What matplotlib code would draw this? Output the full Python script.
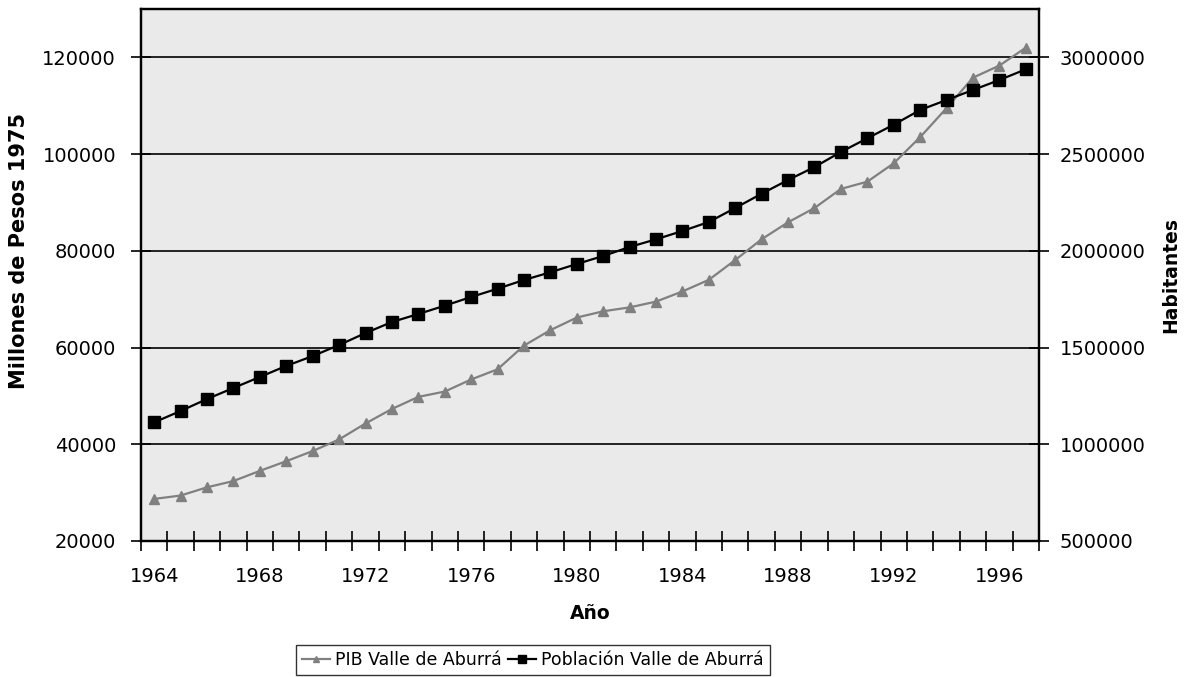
import numpy as np
import matplotlib
matplotlib.use("Agg")
from matplotlib import pyplot as plt
from matplotlib.ticker import FormatStrFormatter

plt.rcParams["font.family"] = ["DejaVu Sans"]

# data
years = list(range(1964, 1998))
pib = [28700, 29400, 31100, 32400, 34500, 36500, 38600, 41000, 44300, 47300,
       49800, 50900, 53400, 55500, 60400, 63600, 66200, 67500, 68300, 69500,
       71600, 74000, 78100, 82400, 85900, 88850, 92800, 94300, 98100, 103500,
       109500, 115800, 118300, 122000]
poblacion = [1113600, 1172000, 1234000, 1291000, 1348000, 1405000, 1456000,
             1513000, 1575000, 1632000, 1673400, 1716300, 1761300, 1804200,
             1849200, 1889000, 1931900, 1973200, 2019800, 2059500, 2102500,
             2149000, 2221400, 2295300, 2366100, 2433000, 2511000, 2581600,
             2652000, 2728000, 2779600, 2831300, 2883000, 2938300]

fig = plt.figure(figsize=(11.87, 6.77), dpi=100)
ax = fig.add_axes([0.1188, 0.2009, 0.7565, 0.7858])
ax.set_facecolor("#eaeaea")
ax2 = ax.twinx()

x = np.arange(len(years))
l1, = ax.plot(x, pib, color="#808080", lw=1.6, marker="^", ms=7,
              label="PIB Valle de Aburrá")
l2, = ax2.plot(x, poblacion, color="black", lw=1.6, marker="s", ms=8,
               label="Población Valle de Aburrá")

ax.set_xlim(-0.5, len(years) - 0.5)
ax.set_ylim(20000, 130000)
ax.set_yticks(np.arange(20000, 130000, 20000))
ax2.set_ylim(500000, 3250000)
ax2.set_yticks(np.arange(500000, 3250000, 500000))
ax2.yaxis.set_major_formatter(FormatStrFormatter("%d"))
ax.yaxis.grid(True, color="black", lw=1.2)
ax.set_axisbelow(True)

# category boundaries as ticks, year labels at centres
ax.set_xticks(np.arange(-0.5, len(years), 1))
ax.set_xticklabels([])
ax.set_xticks(x[::4], minor=True)
ax.set_xticklabels([str(y) for y in years[::4]], minor=True)
ax.tick_params(axis="x", which="major", direction="inout", length=14, width=1.2)
ax.tick_params(axis="x", which="minor", length=0, pad=19, labelsize=14)
ax.tick_params(axis="y", direction="inout", length=14, width=1.2, labelsize=14, pad=11)
ax2.tick_params(axis="y", direction="inout", length=14, width=1.2, labelsize=14, pad=8)

for a in (ax, ax2):
    for s in a.spines.values():
        s.set_linewidth(1.6)
        s.set_color("black")

ax.set_ylabel("Millones de Pesos 1975", fontsize=15, fontweight="bold")
ax.yaxis.set_label_coords(-0.1245, 0.545)
ax2.set_ylabel("Habitantes", fontsize=13.5, fontweight="bold", labelpad=11)
ax.set_xlabel("Año", fontsize=13.5, fontweight="bold", labelpad=13)

fig.legend(handles=[l1, l2], loc="center", bbox_to_anchor=(0.449, 0.025),
           ncol=2, fontsize=12.5, frameon=True, fancybox=False, edgecolor="black",
           handlelength=1.6, handletextpad=0.3, columnspacing=0.4,
           borderpad=0.35, markerscale=0.7)

fig.savefig("out.png", dpi=100)
